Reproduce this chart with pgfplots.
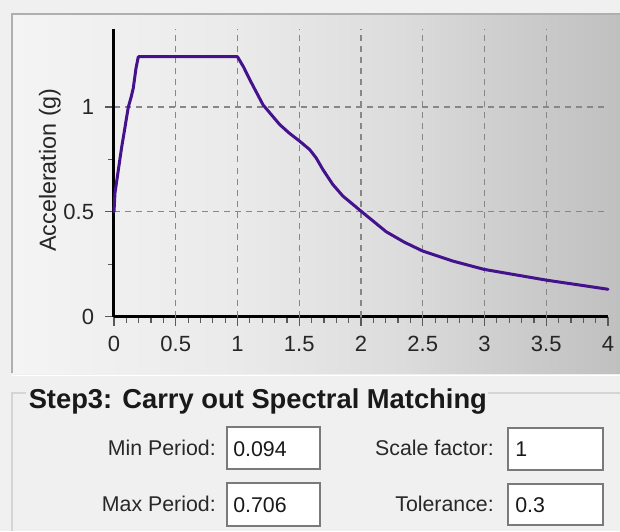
\documentclass[border=0pt]{standalone}
\usepackage{pgfplots}
\pgfplotsset{compat=1.18}
\usepackage{pgfplotstable}
\usepackage{fontspec}
\setmainfont{Liberation Sans}
\definecolor{curvec}{RGB}{68,18,140}
\definecolor{bgc}{RGB}{240,240,240}
\definecolor{gridc}{RGB}{135,135,135}
\definecolor{boxc}{RGB}{122,122,122}
\definecolor{gbline}{RGB}{213,213,213}
\definecolor{panelborder}{RGB}{175,175,175}
\definecolor{lbl}{RGB}{40,40,40}
\pgfdeclarehorizontalshading{panel}{100bp}{rgb(0bp)=(0.957,0.957,0.957); rgb(25bp)=(0.957,0.957,0.957); rgb(43.5bp)=(0.918,0.918,0.918); rgb(57bp)=(0.863,0.863,0.863); rgb(64bp)=(0.816,0.816,0.816); rgb(75bp)=(0.753,0.753,0.753); rgb(100bp)=(0.753,0.753,0.753)}

\pgfplotstableread{
x y
0 0.5
0.008 0.59
0.06 0.80
0.116 1.0
0.14 1.05
0.156 1.09
0.17 1.15
0.178 1.185
0.197 1.24
1.0 1.24
1.05 1.19
1.10 1.13
1.207 1.01
1.342 0.916
1.42 0.875
1.503 0.837
1.584 0.797
1.637 0.757
1.691 0.702
1.772 0.63
1.853 0.575
2.0 0.503
2.203 0.405
2.35 0.355
2.498 0.313
2.741 0.265
2.996 0.225
3.251 0.199
3.507 0.173
3.75 0.152
4.0 0.13
}\spectrum

\begin{document}
\begin{tikzpicture}
\begin{scope}[x=0.75pt,y=-0.75pt]
\fill[bgc] (0,0) rectangle (620,531);
\path[use as bounding box] (0,0) rectangle (620,531);
\shade[shading=panel] (12,14) rectangle (620,373);
\draw[panelborder, line width=0.9pt] (12,373) -- (12,14) -- (620,14);
\draw[white, line width=1pt] (12,375.5) -- (620,375.5);
% group box
\draw[gbline, line width=1pt] (12,531) -- (12,393) -- (26,393);
\draw[gbline, line width=1pt] (488,393) -- (620,393);
\node[anchor=base west, inner sep=0pt, font=\fontsize{20.5}{24}\selectfont\bfseries, text=black!90] at (28.5,408) {Step3: Carry out Spectral Matching};
% labels
\begin{scope}[every node/.style={inner sep=0pt, font=\fontsize{16}{19}\selectfont, text=lbl}]
\node[anchor=base east] at (216,455.5) {Min Period:};
\node[anchor=base east] at (216,511.5) {Max Period:};
\node[anchor=base east] at (494,455.5) {Scale factor:};
\node[anchor=base east] at (494,511.5) {Tolerance:};
\draw[boxc, fill=white, line width=1.1pt] (227,427) rectangle (320,469);
\draw[boxc, fill=white, line width=1.1pt] (227,483) rectangle (320,526);
\draw[boxc, fill=white, line width=1.1pt] (508,428) rectangle (603,470);
\draw[boxc, fill=white, line width=1.1pt] (508,484) rectangle (603,525);
\node[anchor=base west, text=black!90] at (233,456) {0.094};
\node[anchor=base west, text=black!90] at (233,512) {0.706};
\node[anchor=base west, text=black!90] at (515,456) {1};
\node[anchor=base west, text=black!90] at (515,512) {0.3};
\end{scope}
\end{scope}

\begin{axis}[
  at={(85.5pt,-237.375pt)}, anchor=south west,
  scale only axis, width=370.5pt, height=215.25pt,
  xmin=0, xmax=4, ymin=0, ymax=1.37,
  axis lines=left,
  axis line style={-, line width=2.25pt, black},
  xtick={0,0.5,1,1.5,2,2.5,3,3.5,4},
  xticklabels={0,0.5,1,1.5,2,2.5,3,3.5,4},
  ytick={0,0.5,1},
  yticklabels={0,0.5,1},
  minor x tick num=4, minor y tick num=1,
  tick align=outside,
  major tick length=6.75pt, minor tick length=4.5pt,
  tick style={black!65, line width=0.9pt},
  extra x ticks={0.5,1,1.5,2,2.5,3,3.5},
  extra x tick labels={},
  extra x tick style={grid=major},
  ymajorgrids=true,
  major grid style={gridc, line width=1pt, dash pattern=on 4.5pt off 3.75pt},
  tick label style={font=\fontsize{16.5}{19}\selectfont, text=black!85},
  xticklabel style={anchor=north, inner ysep=8pt},
  yticklabel style={anchor=east, inner xsep=8pt},
  ylabel={Acceleration (g)},
  ylabel style={at={(axis description cs:-0.13,0.51)}, anchor=center, font=\fontsize{17.5}{20}\selectfont, text=black!85},
  clip=false,
]
\addplot[curvec, line width=2.25pt, line join=round, line cap=round] table[x=x,y=y] {\spectrum};
\end{axis}
\end{tikzpicture}
\end{document}
